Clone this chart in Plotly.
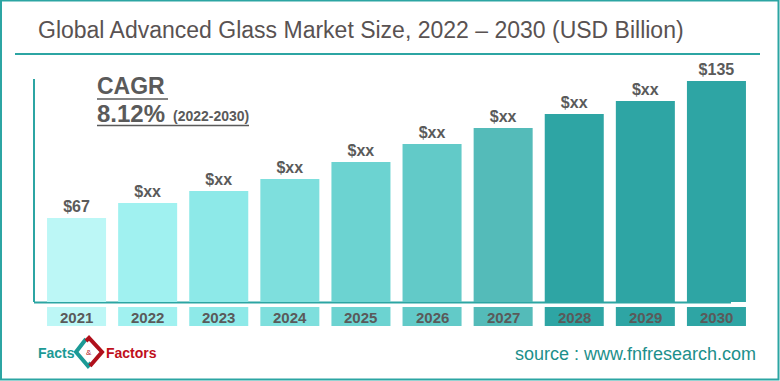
import plotly.graph_objects as go

years = ["2021", "2022", "2023", "2024", "2025", "2026", "2027", "2028", "2029", "2030"]
values = [67, 74.4, 80.4, 86.4, 94.8, 103.7, 111.7, 118.6, 125.1, 135]
labels = ["$67", "$xx", "$xx", "$xx", "$xx", "$xx", "$xx", "$xx", "$xx", "$135"]
colors = ["#bcf7f6", "#a0f1f0", "#8de9e8", "#7edfdd", "#6cd3d1", "#62cac8", "#54bbb9",
          "#2ea5a4", "#2ea5a4", "#2ea5a4"]

W, H = 780, 381
ML, MR, MT, MB = 41, 28, 60, 79
PW, PH = W - ML - MR, H - MT - MB

def px(x):
    return (x - ML) / PW

def py(y):
    return (H - MB - y) / PH

TEAL = "#2ca5a3"
GREY = "#5a5a5a"
FONT = "Arial, Liberation Sans"

fig = go.Figure()
fig.add_trace(go.Bar(
    x=list(range(len(years))), y=values, marker=dict(color=colors, line=dict(width=0)),
    text=["<b>%s</b>" % t for t in labels], textposition="outside", cliponaxis=False,
    textfont=dict(family=FONT, size=16, color=GREY),
    width=0.83, hoverinfo="skip",
))

shapes = []
annotations = []
# year label boxes
for i, (yr, c) in enumerate(zip(years, colors)):
    shapes.append(dict(type="rect", xref="x", yref="paper", x0=i - 0.415, x1=i + 0.415,
                       y0=py(326), y1=py(307), fillcolor=c, line=dict(width=0), layer="below"))
    annotations.append(dict(x=i, y=py(317), xref="x", yref="paper", text="<b>%s</b>" % yr,
                            xanchor="center", yanchor="middle", showarrow=False,
                            font=dict(family=FONT, size=15, color=GREY)))

# axis lines
shapes.append(dict(type="line", xref="paper", yref="paper", x0=px(34), x1=px(34), y0=py(79), y1=py(302),
                   line=dict(color=TEAL, width=2)))
shapes.append(dict(type="line", xref="paper", yref="paper", x0=px(34), x1=px(731), y0=py(302.5), y1=py(302.5),
                   line=dict(color=TEAL, width=2), layer="below"))
# title underline
shapes.append(dict(type="line", xref="paper", yref="paper", x0=px(15), x1=px(760), y0=py(54), y1=py(54),
                   line=dict(color=TEAL, width=2)))
# border
shapes.append(dict(type="rect", xref="paper", yref="paper", x0=px(1), x1=px(778.5), y0=py(379.5), y1=py(0.5),
                   line=dict(color=TEAL, width=2)))
# CAGR underlines
shapes.append(dict(type="line", xref="paper", yref="paper", x0=px(97), x1=px(168), y0=py(99), y1=py(99),
                   line=dict(color=GREY, width=1.5)))
shapes.append(dict(type="line", xref="paper", yref="paper", x0=px(97), x1=px(249), y0=py(125.5), y1=py(125.5),
                   line=dict(color=GREY, width=1.5)))

# logo icon: diamond shape halves
shapes.append(dict(type="path", xref="paper", yref="paper",
                   path="M %f %f L %f %f L %f %f L %f %f" % (px(86), py(339), px(76), py(352), px(88), py(366), px(91), py(363)),
                   fillcolor="rgba(0,0,0,0)", line=dict(color="#1c9a96", width=4)))
shapes.append(dict(type="path", xref="paper", yref="paper",
                   path="M %f %f L %f %f L %f %f L %f %f" % (px(86), py(341), px(89), py(338), px(102), py(352), px(90), py(366)),
                   fillcolor="rgba(0,0,0,0)", line=dict(color="#b0101c", width=4)))

annotations += [
    dict(x=px(36), y=py(30), xref="paper", yref="paper", xanchor="left", yanchor="middle",
         text="Global Advanced Glass Market Size, 2022 \u2013 2030 (USD Billion)", showarrow=False,
         font=dict(family=FONT, size=23, color="#595252")),
    dict(x=px(95), y=py(86), xref="paper", yref="paper", xanchor="left", yanchor="middle",
         text="<b>CAGR</b>", showarrow=False,
         font=dict(family=FONT, size=23, color=GREY)),
    dict(x=px(95), y=py(113), xref="paper", yref="paper", xanchor="left", yanchor="middle",
         text="<b>8.12%</b>", showarrow=False,
         font=dict(family=FONT, size=24, color=GREY)),
    dict(x=px(171), y=py(116), xref="paper", yref="paper", xanchor="left", yanchor="middle",
         text="<b>(2022-2030)</b>", showarrow=False,
         font=dict(family=FONT, size=14, color=GREY)),
    dict(x=px(758), y=py(354), xref="paper", yref="paper", xanchor="right", yanchor="middle",
         text="source : www.fnfresearch.com", showarrow=False,
         font=dict(family=FONT, size=18, color="#1c8f8b")),
    dict(x=px(36), y=py(353), xref="paper", yref="paper", xanchor="left", yanchor="middle",
         text="<b>Facts</b>", showarrow=False,
         font=dict(family=FONT, size=14, color="#1c9a96")),
    dict(x=px(104), y=py(353), xref="paper", yref="paper", xanchor="left", yanchor="middle",
         text="<b>Factors</b>", showarrow=False,
         font=dict(family=FONT, size=14, color="#c0101c")),
    dict(x=px(89), y=py(352), xref="paper", yref="paper", xanchor="center", yanchor="middle",
         text="&", showarrow=False,
         font=dict(family=FONT, size=8, color="#b0101c")),
]

y0 = 25.3
scale = (135 - 67) / (221 - 84)
fig.update_layout(
    width=W, height=H, margin=dict(l=ML, r=MR, t=MT, b=MB),
    paper_bgcolor="white", plot_bgcolor="white", showlegend=False,
    xaxis=dict(range=[-0.5, len(years) - 0.5], showticklabels=False, showgrid=False, zeroline=False,
               showline=False, fixedrange=True),
    yaxis=dict(range=[y0, y0 + PH * scale], showticklabels=False, showgrid=False, zeroline=False,
               showline=False, fixedrange=True),
    shapes=shapes, annotations=annotations, bargap=0.17,
)
fig.write_html("out.html", config={"displayModeBar": False},
               post_script="document.body.style.margin='0';document.body.style.padding='0';")
